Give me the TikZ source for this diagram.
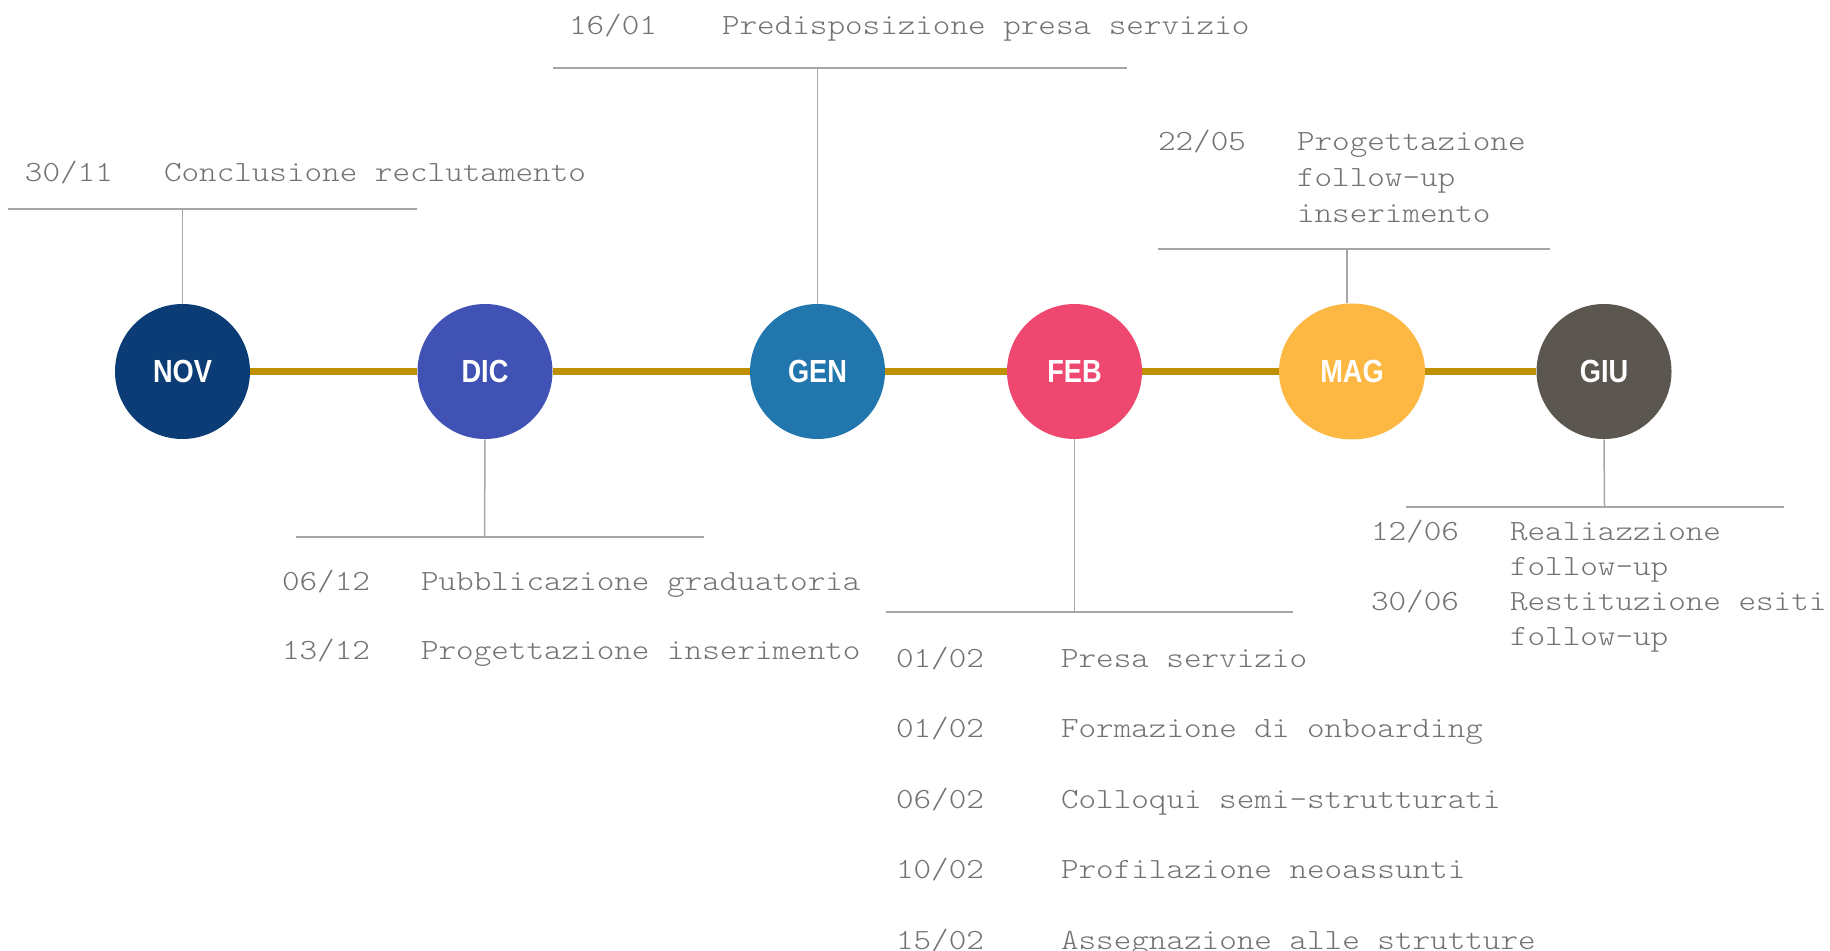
\documentclass[tikz,border=0pt]{standalone}
\usepackage{fontspec}
\usepackage{graphicx}
\newfontfamily\evfont[FakeStretch=1.143]{lmmonolt10-regular.otf}
\newfontfamily\lblfont{Liberation Sans}
\usetikzlibrary{shapes.geometric}
\definecolor{txt}{HTML}{767171}
\definecolor{ln}{HTML}{A6A6A6}
\definecolor{gold}{HTML}{BF9000}
\definecolor{cnov}{HTML}{0B3C75}
\definecolor{cdic}{HTML}{4152B5}
\definecolor{cgen}{HTML}{2276AE}
\definecolor{cfeb}{HTML}{EF4870}
\definecolor{cmag}{HTML}{FDB743}
\definecolor{cgiu}{HTML}{5B5650}
\begin{document}
\begin{tikzpicture}[x=0.5pt,y=-0.5pt,
  month/.style={circle,minimum size=67.5pt,inner sep=0pt,fill=#1,text=white,
    font=\lblfont\bfseries\fontsize{16}{16}\selectfont},
  ev/.style={anchor=base west,inner sep=0pt,outer sep=0pt,text=txt,
    font=\evfont\fontsize{14.65}{17}\selectfont},
  bar/.style={draw=ln,line width=1pt},
  stem/.style={draw=ln,line width=0.75pt},
  tl/.style={draw=gold,line width=3.1pt}]
\useasboundingbox (0,0) rectangle (1830,951);

% month circles
\node[month=cnov] (nov) at (182.5,371.5) {\scalebox{0.85}[1]{NOV}};
\node[month=cdic] (dic) at (485,371.5) {\scalebox{0.85}[1]{DIC}};
\node[month=cgen] (gen) at (817.5,371.5) {\scalebox{0.85}[1]{GEN}};
\node[month=cfeb] (feb) at (1074.5,371.5) {\scalebox{0.85}[1]{FEB}};
\node[month=cmag,shape=ellipse,minimum width=73pt,minimum height=68pt] (mag) at (1352,371.5) {\scalebox{0.85}[1]{MAG}};
\node[month=cgiu] (giu) at (1604,371.5) {\raisebox{-1pt}{\scalebox{0.85}[1]{GIU}}};

% timeline
\draw[tl] (nov) -- (dic);
\draw[tl] (dic) -- (gen);
\draw[tl] (gen) -- (feb);
\draw[tl] (feb) -- (mag);
\draw[tl] (mag) -- (giu);

% bars and stems
\coordinate (nbl) at (8,209);   \coordinate (nbr) at (417,209);   \coordinate (nbm) at (182.5,209);
\coordinate (gbl) at (553,68);  \coordinate (gbr) at (1127,68);   \coordinate (gbm) at (817.5,68);
\coordinate (mbl) at (1158,249);\coordinate (mbr) at (1550,249);  \coordinate (mbm) at (1347,249);
\coordinate (dbl) at (296,537); \coordinate (dbr) at (704,537);   \coordinate (dbm) at (484.5,537);
\coordinate (fbl) at (886,612); \coordinate (fbr) at (1293,612);  \coordinate (fbm) at (1074.5,612);
\coordinate (ubl) at (1406,507);\coordinate (ubr) at (1784,507);  \coordinate (ubm) at (1604.5,507);

\draw[bar] (nbl) -- (nbr);
\draw[bar] (gbl) -- (gbr);
\draw[bar] (mbl) -- (mbr);
\draw[bar] (dbl) -- (dbr);
\draw[bar] (fbl) -- (fbr);
\draw[bar] (ubl) -- (ubr);
\draw[stem] (nbm) -- (nov.north);
\draw[stem] (gbm) -- (gen.north);
\draw[stem] (mbm) -- (mbm |- mag.north);
\draw[stem] (dbm) -- (dic.south);
\draw[stem] (fbm) -- (feb.south);
\draw[stem] (ubm) -- (giu.south);

% NOV
\node[ev] (d30n) at (25,182) {30/11};
\node[ev] (t30n) at (164,182) {Conclusione reclutamento};
% GEN
\node[ev] (d16g) at (569,35) {16/01};
\node[ev] (t16g) at (722,35) {Predisposizione presa servizio};
% MAG
\node[ev] (d22m) at (1158,151) {22/05};
\node[ev] (t22ma) at (1297,151) {Progettazione};
\node[ev] (t22mb) at (1297,187) {follow-up};
\node[ev] (t22mc) at (1297,223) {inserimento};
% DIC
\node[ev] (d06d) at (282,590) {06/12};
\node[ev] (t06d) at (421,590) {Pubblicazione graduatoria};
\node[ev] (d13d) at (282,659) {13/12};
\node[ev] (t13d) at (421,659) {Progettazione inserimento};
% FEB
\node[ev] (df1) at (896,667) {01/02};
\node[ev] (tf1) at (1061,667) {Presa servizio};
\node[ev] (df2) at (896,737.5) {01/02};
\node[ev] (tf2) at (1061,737.5) {Formazione di onboarding};
\node[ev] (df3) at (896,808) {06/02};
\node[ev] (tf3) at (1061,808) {Colloqui semi-strutturati};
\node[ev] (df4) at (896,878.5) {10/02};
\node[ev] (tf4) at (1061,878.5) {Profilazione neoassunti};
\node[ev] (df5) at (896,949) {15/02};
\node[ev] (tf5) at (1061,949) {Assegnazione alle strutture};
% GIU
\node[ev] (d12u) at (1371,540) {12/06};
\node[ev] (t12ua) at (1510,540) {Realiazzione};
\node[ev] (t12ub) at (1510,575) {follow-up};
\node[ev] (d30u) at (1371,610) {30/06};
\node[ev] (t30ua) at (1510,610) {Restituzione esiti};
\node[ev] (t30ub) at (1510,645) {follow-up};
\end{tikzpicture}
\end{document}
